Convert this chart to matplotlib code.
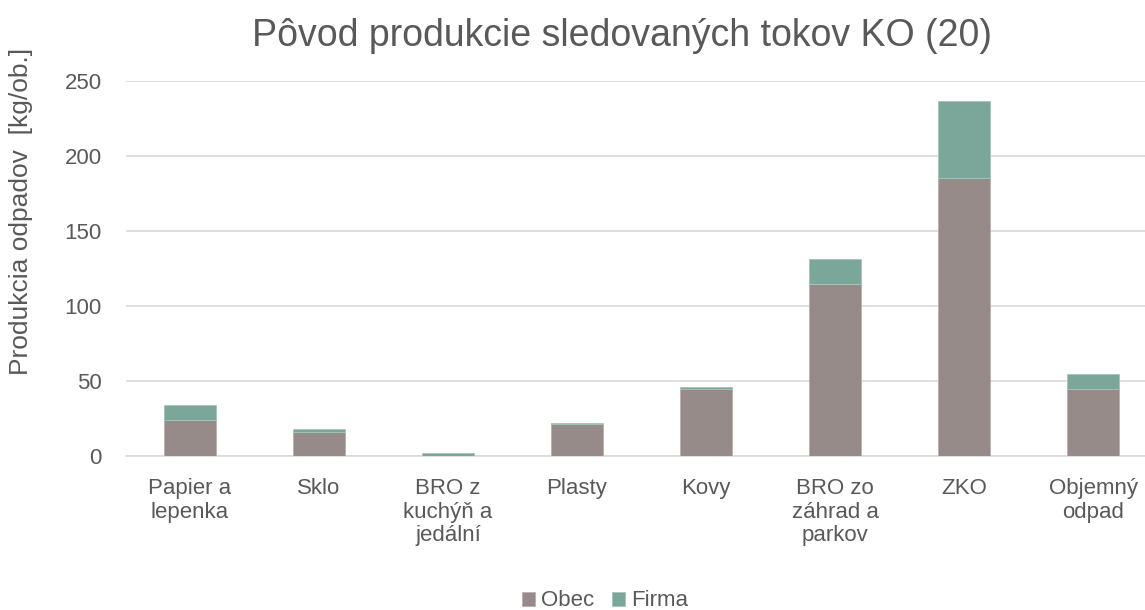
import numpy as np
import matplotlib.pyplot as plt

plt.rcParams['font.family'] = ['Liberation Sans', 'DejaVu Sans']

# Production of monitored municipal waste streams, kg per inhabitant
categories = ["Papier a\nlepenka", "Sklo", "BRO z\nkuchýň a\njedální", "Plasty",
              "Kovy", "BRO zo\nzáhrad a\nparkov", "ZKO", "Objemný\nodpad"]
obec = [24.3, 16.3, 0.3, 21.3, 44.7, 114.4, 185.3, 44.7]
firma = [10.0, 1.7, 1.7, 0.7, 1.3, 16.9, 51.6, 9.7]

text_col = "#595959"
obec_col = "#968b89"
firma_col = "#7ba69a"

W, H = 1145, 610
fig = plt.figure(figsize=(W / 100, H / 100), dpi=100)
# plot area runs a bit past the right edge of the figure
ax = fig.add_axes([125.5 / W, 154 / H, 1032 / W, 375 / H])

x = np.arange(len(categories))
ax.bar(x, obec, width=0.4, color=obec_col, edgecolor="#b8b0ae", linewidth=0.6,
       label="Obec", zorder=3)
ax.bar(x, firma, width=0.4, bottom=obec, color=firma_col, edgecolor="#a3c4ba",
       linewidth=0.6, label="Firma", zorder=3)

ax.set_xlim(-0.5, len(categories) - 0.5)
ax.set_ylim(0, 250)
ax.set_yticks(np.arange(0, 251, 50))
ax.set_xticks(x)
ax.set_xticklabels(categories, fontsize=16, color=text_col, linespacing=1.15)
ax.tick_params(axis='y', labelsize=16, labelcolor=text_col, length=0, pad=17)
ax.tick_params(axis='x', length=0, pad=16)
ax.grid(axis='y', color="#d9d9d9", linewidth=1.2, zorder=0)

for s in ["top", "right", "left"]:
    ax.spines[s].set_visible(False)
ax.spines["bottom"].set_color("#d9d9d9")
ax.spines["bottom"].set_linewidth(1.2)

fig.text(622 / W, 1 - 36 / H, "Pôvod produkcie sledovaných tokov KO (20)",
         ha='center', va='center', fontsize=27, color=text_col)
fig.text(21 / W, 1 - 211 / H, "Produkcia odpadov  [kg/ob.]",
         rotation=90, ha='center', va='center', fontsize=19, color=text_col)

fig.legend(loc='center', bbox_to_anchor=(605 / W, 1 - 601 / H), ncol=2,
           frameon=False, fontsize=16, labelcolor=text_col,
           handlelength=0.6, handleheight=0.6, handletextpad=0.25,
           columnspacing=0.8, borderpad=0)

fig.savefig("out.png", dpi=100)
